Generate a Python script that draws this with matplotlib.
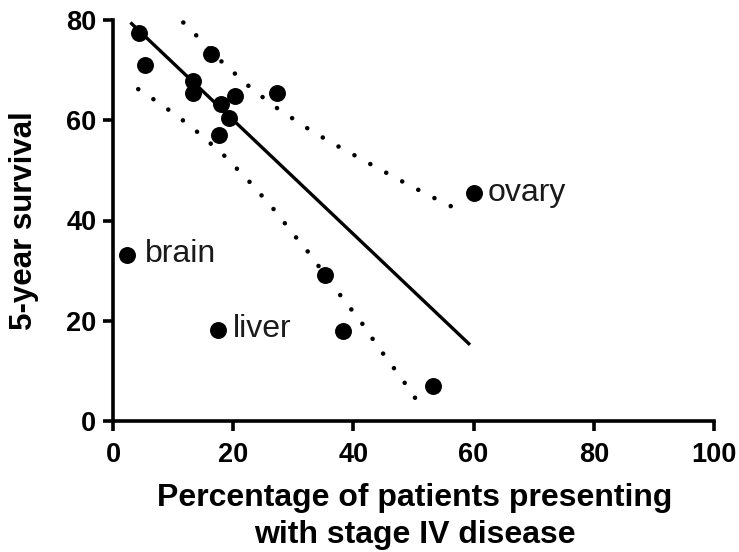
import numpy as np
import matplotlib
matplotlib.use("Agg")
import matplotlib.pyplot as plt

# Data points
x_vals = [4.4, 5.3, 16.3, 13.3, 13.3, 20.3, 18.0, 19.3, 17.7, 27.3, 35.2, 60.1, 38.2, 53.2, 2.3, 17.5]
y_vals = [77.5, 71.1, 73.2, 67.9, 65.5, 64.9, 63.2, 60.5, 57.0, 65.4, 29.2, 45.5, 17.9, 7.0, 33.2, 18.2]
point_labels = {14: "brain", 15: "liver", 11: "ovary"}

# Regression line and dotted confidence band
fit_x = [2.9, 59.4]
fit_y = [79.5, 15.2]
upper_x = [11.7, 13.8, 17.9, 20.2, 22.4, 24.8, 27.2, 29.7, 32.2, 34.7, 37.3, 39.9,
           42.6, 45.2, 47.8, 50.5, 53.1, 55.8, 58.5]
upper_y = [79.5, 77.0, 71.9, 69.4, 67.0, 64.7, 62.5, 60.5, 58.5, 56.7, 54.9, 53.2,
           51.4, 49.7, 48.0, 46.3, 44.7, 43.1, 41.5]
lower_x = [4.2, 6.6, 9.0, 11.4, 13.8, 16.1, 18.3, 20.4, 22.5, 24.5, 26.5, 28.3, 30.2,
           32.1, 33.9, 37.5, 39.3, 41.2, 42.9, 44.6, 46.4, 48.2, 49.9, 51.7]
lower_y = [66.2, 64.3, 62.3, 60.2, 57.9, 55.5, 53.2, 50.6, 48.0, 45.3, 42.6, 39.9, 37.0,
           34.3, 31.4, 25.6, 22.8, 19.9, 16.9, 14.0, 11.1, 8.2, 5.2, 2.3]

x_ticks = [0, 20, 40, 60, 80, 100]
y_ticks = [0, 20, 40, 60, 80]

FONT = "Liberation Sans"

fig = plt.figure(figsize=(7.39, 5.52), dpi=100)
ax = fig.add_axes([113 / 739, 1 - 421 / 552, 601 / 739, 401 / 552])

ax.plot(fit_x, fit_y, color="black", lw=2.4, solid_capstyle="butt")
ax.plot(upper_x, upper_y, color="black", lw=3.3, linestyle=(0, (0.01, 3.95)),
        dash_capstyle="round")
ax.plot(lower_x, lower_y, color="black", lw=3.3, linestyle=(0, (0.01, 3.95)),
        dash_capstyle="round")
ax.plot(x_vals, y_vals, "o", color="black", markersize=12.2, markeredgewidth=0,
        clip_on=False)

offsets = {"brain": 13.0, "liver": 10.5, "ovary": 10.0}
for i, txt in point_labels.items():
    ax.annotate(txt, (x_vals[i], y_vals[i]), xytext=(offsets[txt], -5.5),
                textcoords="offset points", fontsize=23, fontfamily=FONT,
                va="baseline", ha="left", color="#1a1a1a")

ax.set_xlim(0, 100)
ax.set_ylim(0, 80)
ax.set_xticks(x_ticks)
ax.set_yticks(y_ticks)
for sp in ("top", "right"):
    ax.spines[sp].set_visible(False)
for sp in ("left", "bottom"):
    ax.spines[sp].set_linewidth(2.6)
    ax.spines[sp].set_capstyle("projecting")
ax.tick_params(width=2.6, length=7, labelsize=19.5)
ax.tick_params(axis="x", pad=8)
ax.tick_params(axis="y", pad=5)
for lab in ax.get_xticklabels() + ax.get_yticklabels():
    lab.set_fontweight("bold")
    lab.set_fontfamily(FONT)

ax.set_ylabel("5-year survival", fontsize=22.5, fontweight="bold", fontfamily=FONT,
              va="center", ha="center")
ax.yaxis.set_label_coords(-0.148, 0.5)
ax.set_xlabel("Percentage of patients presenting\nwith stage IV disease", fontsize=23,
              fontweight="bold", fontfamily=FONT, linespacing=1.3, va="top")
ax.xaxis.set_label_coords(0.502, -0.155)

fig.savefig("out.png", dpi=100)
